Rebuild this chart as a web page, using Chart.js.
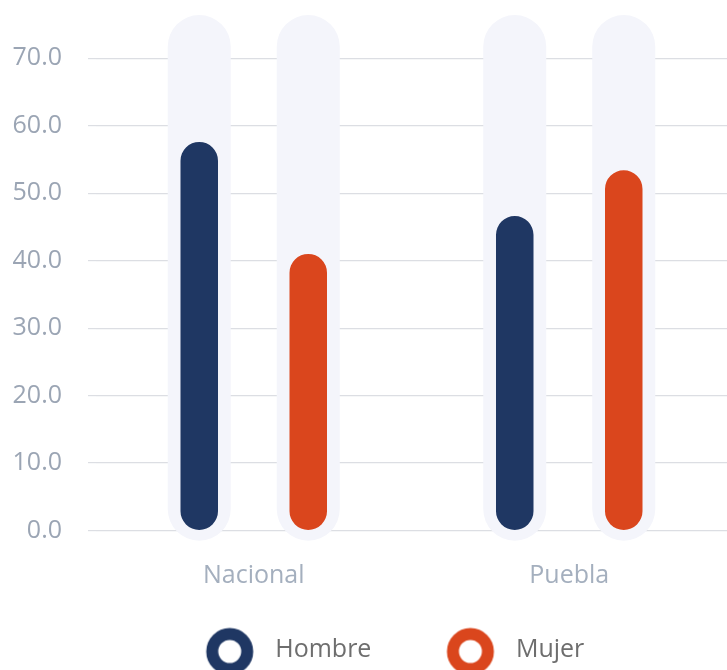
<!DOCTYPE html>
<html>
<head>
<meta charset="utf-8">
<script src="https://cdn.jsdelivr.net/npm/chart.js@4"></script>
<style>
  html, body { margin: 0; padding: 0; background: #ffffff; }
  canvas { display: block; }
</style>
</head>
<body>
<canvas id="chart" width="727" height="670"></canvas>
<script>
// Data
const categories = ['Nacional', 'Puebla'];
const hombre = [57.6, 46.6];
const mujer = [41.0, 53.4];
const trackRange = [-1.5, 76.4]; // pale background "track" behind each bar
const yTicks = [0, 10, 20, 30, 40, 50, 60, 70];
const seriesNames = ['Hombre', 'Mujer'];

// Colors
const navy = '#1f3763';
const orange = '#da461d';
const track = '#f4f5fb';

Chart.defaults.font.family = "'Open Sans', 'Noto Sans', sans-serif";
Chart.defaults.font.size = 25;

// Legend marker: ring drawn in a wide canvas so the text sits where it should
function makeRing(color) {
    const c = document.createElement('canvas');
    c.width = 120;
    c.height = 54;
    const g = c.getContext('2d');
    g.beginPath();
    g.arc(87, 29, 17.5, 0, Math.PI * 2);
    g.fillStyle = '#ffffff';
    g.fill();
    g.lineWidth = 12;
    g.strokeStyle = color;
    g.stroke();
    return c;
}
const rings = [makeRing(navy), makeRing(orange)];

const trackData = categories.map(() => trackRange.slice());

const chart = new Chart(document.getElementById('chart'), {
    type: 'bar',
    data: {
        labels: categories,
        datasets: [{
            label: seriesNames[0],
            data: hombre,
            backgroundColor: navy,
            stack: 'h',
            order: 1,
            barPercentage: 0.344,
            categoryPercentage: 0.691,
            borderRadius: 100,
            borderSkipped: false
        }, {
            label: seriesNames[1],
            data: mujer,
            backgroundColor: orange,
            stack: 'm',
            order: 1,
            barPercentage: 0.344,
            categoryPercentage: 0.691,
            borderRadius: 100,
            borderSkipped: false
        }, {
            label: 'track-h',
            data: trackData,
            backgroundColor: track,
            stack: 'h',
            order: 2,
            barPercentage: 0.578,
            categoryPercentage: 0.691,
            borderRadius: 100,
            borderSkipped: false
        }, {
            label: 'track-m',
            data: trackData,
            backgroundColor: track,
            stack: 'm',
            order: 2,
            barPercentage: 0.578,
            categoryPercentage: 0.691,
            borderRadius: 100,
            borderSkipped: false
        }]
    },
    options: {
        responsive: false,
        animation: false,
        layout: {
            padding: { top: 11, bottom: -2, left: 0, right: 0 }
        },
        plugins: {
            tooltip: { enabled: false },
            legend: {
                display: true,
                position: 'bottom',
                labels: {
                    usePointStyle: true,
                    pointStyleWidth: 120,
                    padding: 12,
                    color: '#6e6e6e',
                    font: { size: 25 },
                    generateLabels: () => seriesNames.map((name, i) => ({
                        text: name,
                        pointStyle: rings[i],
                        fillStyle: '#ffffff',
                        strokeStyle: i === 0 ? navy : orange,
                        lineWidth: 0,
                        hidden: false,
                        datasetIndex: i,
                        fontColor: '#6e6e6e'
                    }))
                }
            }
        },
        scales: {
            x: {
                stacked: true,
                grid: { display: false, drawTicks: false },
                border: { display: false },
                ticks: {
                    color: '#a4afbe',
                    padding: 17,
                    font: { size: 25 }
                },
                afterFit: (scale) => { scale.height = 81; }
            },
            y: {
                stacked: false,
                min: -2,
                max: 77,
                afterBuildTicks: (scale) => {
                    scale.ticks = yTicks.map(v => ({ value: v }));
                },
                afterFit: (scale) => {
                    scale.width = 96;
                    scale.paddingTop = 0;
                    scale.paddingBottom = 0;
                },
                grid: {
                    color: '#dcdee3',
                    lineWidth: 1.2,
                    drawTicks: true,
                    tickLength: 8
                },
                border: { display: false },
                ticks: {
                    color: '#9ba5b4',
                    padding: 26,
                    font: { size: 25 },
                    callback: (v) => Number(v).toFixed(1)
                }
            }
        }
    }
});
</script>
</body>
</html>
